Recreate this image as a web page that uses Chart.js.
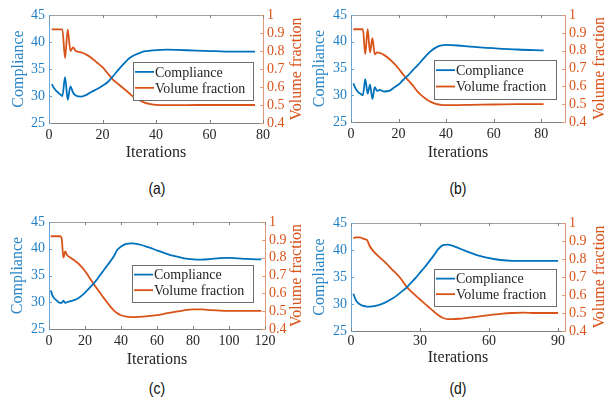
<!DOCTYPE html>
<html>
<head>
<meta charset="utf-8">
<script src="https://cdn.jsdelivr.net/npm/chart.js@4.4.0/dist/chart.umd.min.js"></script>
<style>
  html, body { margin: 0; padding: 0; background: #fff; }
  body { width: 610px; height: 405px; position: relative; overflow: hidden; }
  canvas { position: absolute; }
  .tag { position: absolute; width: 60px; text-align: center; line-height: 20px;
         font-family: "Liberation Sans", Arial, sans-serif; font-size: 17px; color: #111;
         transform: scaleX(0.82); }
</style>
</head>
<body>
<canvas id="chartA" width="305" height="170" style="left:0;top:0"></canvas>
<canvas id="chartB" width="305" height="170" style="left:305px;top:0"></canvas>
<canvas id="chartC" width="305" height="170" style="left:0;top:200px"></canvas>
<canvas id="chartD" width="305" height="170" style="left:305px;top:200px"></canvas>
<div class="tag" style="left:127px;top:179px">(a)</div>
<div class="tag" style="left:428px;top:179px">(b)</div>
<div class="tag" style="left:127px;top:379px">(c)</div>
<div class="tag" style="left:428px;top:379px">(d)</div>
<script>
// iterations and values
const itA = [1,2,3,4,5,6,7,8,9,10,12,14,16,18,20,22,24,26,28,30,32,34,36,38,40,44,48,55,62,70,77];
const compA = [32.2,31.4,30.8,30.4,30.0,33.5,29.3,31.8,30.6,30.1,29.9,30.2,30.8,31.3,31.9,32.6,33.7,34.9,36.0,37.0,37.6,38.0,38.3,38.4,38.5,38.6,38.55,38.4,38.3,38.2,38.2];
const volA = [0.92,0.92,0.92,0.92,0.92,0.76,0.92,0.80,0.82,0.80,0.793,0.78,0.76,0.735,0.71,0.675,0.64,0.615,0.59,0.565,0.54,0.525,0.512,0.505,0.501,0.499,0.499,0.50,0.50,0.50,0.50];

const itB = [1,2,3,4,5,6,7,8,9,10,11,12,14,16,18,20,22,24,26,28,30,32,34,36,38,40,45,50,60,70,81];
const compB = [32.2,31.2,30.6,30.3,30.0,33.0,30.3,32.0,29.3,31.5,30.8,31.0,30.7,30.8,31.4,32.0,32.9,33.7,34.7,35.6,36.6,37.6,38.4,39.0,39.3,39.4,39.3,39.1,38.8,38.55,38.4];
const volB = [0.92,0.92,0.92,0.92,0.92,0.78,0.92,0.79,0.87,0.78,0.79,0.788,0.775,0.755,0.73,0.70,0.665,0.635,0.605,0.57,0.545,0.525,0.51,0.50,0.496,0.495,0.495,0.496,0.498,0.50,0.50];

const itC = [1,2,3,4,5,6,7,8,9,10,12,14,16,18,20,22,24,26,28,30,32,34,36,38,40,43,46,50,55,60,65,70,75,80,85,90,95,100,105,110,118];
const compC = [32.2,31.2,30.7,30.4,30.1,29.9,29.9,30.3,29.9,30.0,30.2,30.4,30.7,31.2,31.8,32.5,33.2,34.0,34.9,35.8,36.7,37.6,38.6,39.8,40.4,40.9,41.0,40.8,40.3,39.7,39.1,38.6,38.2,38.0,37.95,38.1,38.25,38.3,38.2,38.1,38.0];
const volC = [0.92,0.92,0.92,0.92,0.92,0.92,0.91,0.80,0.835,0.815,0.80,0.785,0.77,0.75,0.725,0.695,0.665,0.635,0.607,0.58,0.553,0.527,0.505,0.488,0.477,0.469,0.467,0.468,0.472,0.478,0.487,0.496,0.505,0.51,0.51,0.506,0.503,0.502,0.502,0.502,0.502];

const itD = [1,2,3,4,5,6,7,8,9,10,12,15,18,20,22,24,26,28,30,32,34,36,38,40,42,44,47,50,55,60,65,70,75,80,90];
const compD = [31.9,30.8,30.2,29.9,29.7,29.6,29.5,29.5,29.55,29.6,29.8,30.3,31.0,31.6,32.3,33.0,33.9,34.8,35.8,36.8,37.9,39.0,40.2,40.9,41.0,40.8,40.3,39.8,39.0,38.5,38.15,38.0,38.0,38.0,38.0];
const volD = [0.915,0.92,0.92,0.92,0.915,0.91,0.905,0.875,0.855,0.84,0.815,0.78,0.74,0.715,0.685,0.648,0.622,0.598,0.575,0.552,0.53,0.508,0.487,0.472,0.466,0.466,0.468,0.472,0.48,0.488,0.495,0.50,0.502,0.50,0.50];

const xTicksAB = [0, 20, 40, 60, 80];
const xTicksC = [0, 20, 40, 60, 80, 100, 120];
const xTicksD = [0, 30, 60, 90];
const compTicks = [25, 30, 35, 40, 45];
const volTicks = [0.4, 0.5, 0.6, 0.7, 0.8, 0.9, 1];

const BLUE = '#0072BD';
const ORANGE = '#D95319';
const SERIF = '"Liberation Serif", "Times New Roman", serif';

// area: [left axis width, top padding, right axis width, bottom axis height]
// pads: [left title padding, right title centre from canvas edge, bottom title padding]
const panels = [
  { id: 'chartA', it: itA, comp: compA, vol: volA, xMax: 80, xTicks: xTicksAB, area: [49, 15, 42, 47], pads: [11, 8, 9], xPad: 4, box: [133, 62, 120, 38] },
  { id: 'chartB', it: itB, comp: compB, vol: volB, xMax: 90, xTicks: xTicksAB, area: [46, 15, 45, 48], pads: [7, 10, 9], xPad: 4, box: [129, 60, 122, 39] },
  { id: 'chartC', it: itC, comp: compC, vol: volC, xMax: 120, xTicks: xTicksC, area: [49, 22, 40, 41], pads: [10, 8, 2], xPad: 4, box: [132, 65, 121, 37] },
  { id: 'chartD', it: itD, comp: compD, vol: volD, xMax: 93, xTicks: xTicksD, area: [46, 23, 45, 39], pads: [7, 10, 4], xPad: 2, box: [129, 69, 122, 37] }
];

// top box line, inward ticks, right title (reads upward) and the legend box
const framePlugin = {
  id: 'frame',
  afterDraw(chart, args, opts) {
    const { ctx, chartArea: a, scales } = chart;
    ctx.save();
    ctx.lineWidth = 1;
    ctx.strokeStyle = '#a0a0a0';
    ctx.beginPath();
    ctx.moveTo(a.left, a.top + 0.5);
    ctx.lineTo(a.right, a.top + 0.5);
    ctx.stroke();
    ctx.strokeStyle = '#808080';
    scales.x.ticks.forEach((t) => {
      const px = Math.round(scales.x.getPixelForValue(t.value)) + 0.5;
      ctx.beginPath();
      ctx.moveTo(px, a.bottom); ctx.lineTo(px, a.bottom - 3);
      ctx.moveTo(px, a.top); ctx.lineTo(px, a.top + 3);
      ctx.stroke();
    });
    ctx.strokeStyle = '#6aa5d8';
    scales.y.ticks.forEach((t) => {
      const py = Math.round(scales.y.getPixelForValue(t.value)) + 0.5;
      ctx.beginPath(); ctx.moveTo(a.left, py); ctx.lineTo(a.left + 3, py); ctx.stroke();
    });
    ctx.strokeStyle = '#e39a78';
    scales.y1.ticks.forEach((t) => {
      const py = Math.round(scales.y1.getPixelForValue(t.value)) + 0.5;
      ctx.beginPath(); ctx.moveTo(a.right - 3, py); ctx.lineTo(a.right, py); ctx.stroke();
    });

    // right axis title
    ctx.save();
    ctx.translate(chart.width - opts.rightTitle, (a.top + a.bottom) / 2);
    ctx.rotate(-Math.PI / 2);
    ctx.font = '16px ' + SERIF;
    ctx.fillStyle = ORANGE;
    ctx.textAlign = 'center';
    ctx.textBaseline = 'middle';
    ctx.fillText('Volume fraction', 0, 0);
    ctx.restore();

    const [bx, by, bw, bh] = opts.box;
    ctx.fillStyle = '#fff';
    ctx.fillRect(bx, by, bw, bh);
    ctx.strokeStyle = '#6e6e6e';
    ctx.strokeRect(bx + 0.5, by + 0.5, bw, bh);
    ctx.font = '14px ' + SERIF;
    ctx.textBaseline = 'middle';
    ctx.fillStyle = '#262626';
    chart.data.datasets.forEach((ds, i) => {
      const cy = by + bh * (i === 0 ? 0.26 : 0.68);
      ctx.strokeStyle = ds.borderColor;
      ctx.lineWidth = 1.8;
      ctx.beginPath(); ctx.moveTo(bx + 2, cy); ctx.lineTo(bx + 21, cy); ctx.stroke();
      ctx.fillText(ds.label, bx + 22, cy + 1);
    });
    ctx.restore();
  }
};

function fixedTicks(values) {
  return (scale) => { scale.ticks = values.map((v) => ({ value: v })); };
}

function buildPanel(p) {
  const font = { family: SERIF, size: 14 };
  const titleFont = { family: SERIF, size: 16, lineHeight: 1 };
  new Chart(document.getElementById(p.id), {
    type: 'line',
    data: {
      datasets: [
        {
          label: 'Compliance',
          data: p.it.map((x, i) => ({ x, y: p.comp[i] })),
          yAxisID: 'y',
          borderColor: BLUE,
          borderWidth: 1.8,
          pointRadius: 0,
          cubicInterpolationMode: 'monotone'
        },
        {
          label: 'Volume fraction',
          data: p.it.map((x, i) => ({ x, y: p.vol[i] })),
          yAxisID: 'y1',
          borderColor: ORANGE,
          borderWidth: 1.8,
          pointRadius: 0,
          cubicInterpolationMode: 'monotone'
        }
      ]
    },
    options: {
      responsive: false,
      animation: false,
      devicePixelRatio: 1,
      layout: { padding: { top: p.area[1], left: 0, right: 0, bottom: 0 } },
      plugins: {
        legend: { display: false },
        tooltip: { enabled: false },
        frame: { box: p.box, rightTitle: p.pads[1] }
      },
      scales: {
        x: {
          type: 'linear',
          min: 0,
          max: p.xMax,
          afterBuildTicks: fixedTicks(p.xTicks),
          afterFit: (s) => { s.height = p.area[3]; },
          grid: { display: false, drawTicks: false },
          border: { color: '#808080' },
          ticks: { color: '#262626', font, padding: p.xPad, maxRotation: 0, autoSkip: false },
          title: { display: true, text: 'Iterations', color: '#262626', font: titleFont, padding: { bottom: p.pads[2], top: 0 } }
        },
        y: {
          position: 'left',
          min: 25,
          max: 45,
          afterBuildTicks: fixedTicks(compTicks),
          afterFit: (s) => { s.width = p.area[0]; },
          grid: { display: false, drawTicks: false },
          border: { color: '#6aa5d8' },
          ticks: { color: '#1f7fc4', font, padding: 4, autoSkip: false },
          title: { display: true, text: 'Compliance', color: '#2a86c8', font: titleFont, padding: { top: p.pads[0], bottom: 0 } }
        },
        y1: {
          position: 'right',
          min: 0.4,
          max: 1,
          afterBuildTicks: fixedTicks(volTicks),
          afterFit: (s) => { s.width = p.area[2]; },
          grid: { display: false, drawTicks: false },
          border: { color: '#e39a78' },
          ticks: { color: ORANGE, font, padding: 4, autoSkip: false, callback: (v) => String(Math.round(v * 10) / 10) }
        }
      }
    },
    plugins: [framePlugin]
  });
}

panels.forEach(buildPanel);
</script>
</body>
</html>
